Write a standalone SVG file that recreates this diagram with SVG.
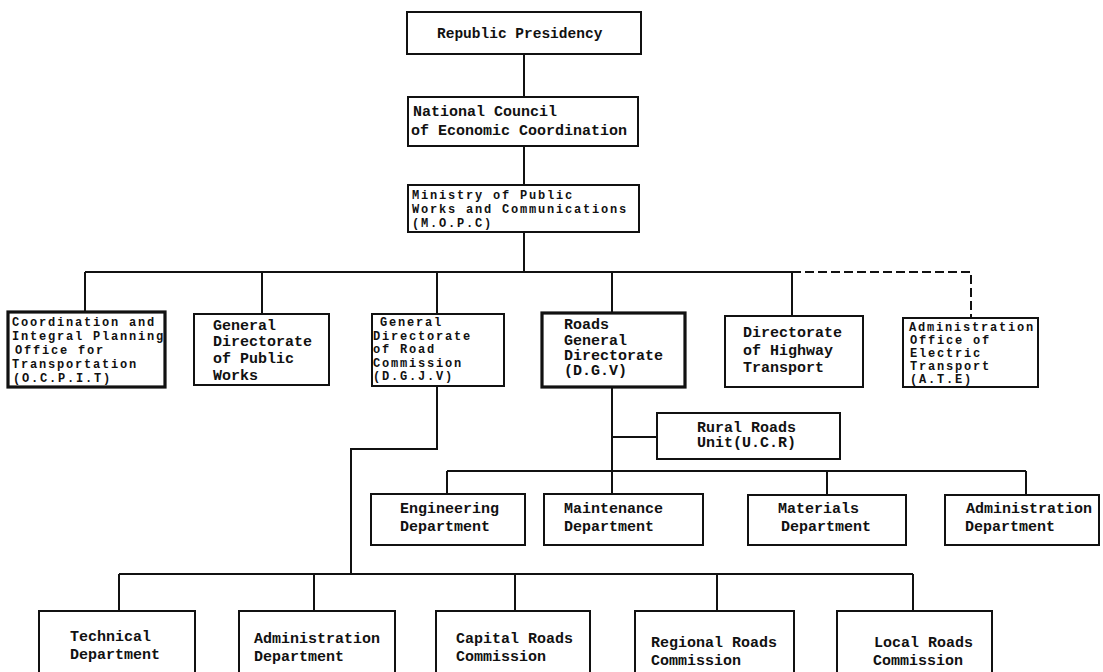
<svg xmlns="http://www.w3.org/2000/svg" width="1103" height="672" viewBox="0 0 1103 672">
<style>
.box{fill:#fff;stroke:#111;stroke-width:2}
.thick{stroke-width:3.2}
.ln{fill:none;stroke:#111;stroke-width:2}
.dash{fill:none;stroke:#111;stroke-width:2;stroke-dasharray:9,4}
text{font-family:"Liberation Mono","DejaVu Sans Mono",monospace;font-size:15px;font-weight:bold;fill:#111}
.sm{font-size:12px;letter-spacing:1.8px}
</style>
<rect width="1103" height="672" fill="#fff"/>
<g id="connectors">
<path class="ln" d="M524,54V97M524,146V185M524,232V272"/>
<path class="ln" d="M85,272H792M85,272V312M262,272V314M437,272V314M612,272V313M792,272V316"/>
<path class="dash" d="M792,272H971V318"/>
<path class="ln" d="M437,386V449H351V574"/>
<path class="ln" d="M612,387V494M612,437H657"/>
<path class="ln" d="M447,471H1026M447,471V494M827,471V495M1026,471V495"/>
<path class="ln" d="M119,574H913M119,574V611M314,574V611M515,574V611M717,574V611M913,574V611"/>
</g>
<g id="republic-presidency"><rect class="box" x="407" y="12" width="234" height="42"/><text x="437" y="38" style="font-size:14.5px">Republic Presidency</text></g>
<g id="national-council"><rect class="box" x="408" y="97" width="230" height="49"/><text x="413" y="116">National Council</text><text x="411" y="135">of Economic Coordination</text></g>
<g id="ministry"><rect class="box" x="408" y="185" width="231" height="47"/><text class="sm" x="412" y="199">Ministry of Public</text><text class="sm" x="412" y="213">Works and Communications</text><text class="sm" x="412" y="227">(M.O.P.C)</text></g>
<g id="ocpit"><rect class="box thick" x="8" y="312" width="157" height="75"/><text class="sm" x="12" y="326">Coordination and</text><text class="sm" x="12" y="340">Integral Planning</text><text class="sm" x="15" y="354">Office for</text><text class="sm" x="12" y="368">Transportation</text><text class="sm" x="13" y="382">(O.C.P.I.T)</text></g>
<g id="public-works"><rect class="box" x="194" y="314" width="135" height="71"/><text x="213" y="330">General</text><text x="213" y="346">Directorate</text><text x="213" y="363">of Public</text><text x="213" y="380">Works</text></g>
<g id="dgjv"><rect class="box" x="372" y="314" width="132" height="72"/><text class="sm" x="380" y="326">General</text><text class="sm" x="373" y="340">Directorate</text><text class="sm" x="373" y="353">of Road</text><text class="sm" x="373" y="367">Commission</text><text class="sm" x="373" y="380">(D.G.J.V)</text></g>
<g id="dgv"><rect class="box thick" x="542" y="313" width="143" height="74"/><text x="564" y="329">Roads</text><text x="564" y="345">General</text><text x="564" y="360">Directorate</text><text x="564" y="375">(D.G.V)</text></g>
<g id="highway"><rect class="box" x="725" y="316" width="138" height="71"/><text x="743" y="337">Directorate</text><text x="743" y="355">of Highway</text><text x="743" y="372">Transport</text></g>
<g id="ate"><rect class="box" x="903" y="318" width="135" height="69"/><text class="sm" x="909" y="331">Administration</text><text class="sm" x="910" y="344">Office of</text><text class="sm" x="910" y="357">Electric</text><text class="sm" x="910" y="370">Transport</text><text class="sm" x="910" y="383">(A.T.E)</text></g>
<g id="ucr"><rect class="box" x="657" y="413" width="183" height="46"/><text x="697" y="432">Rural Roads</text><text x="697" y="447">Unit(U.C.R)</text></g>
<g id="engineering"><rect class="box" x="371" y="494" width="154" height="51"/><text x="400" y="513">Engineering</text><text x="400" y="531">Department</text></g>
<g id="maintenance"><rect class="box" x="544" y="494" width="159" height="51"/><text x="564" y="513">Maintenance</text><text x="564" y="531">Department</text></g>
<g id="materials"><rect class="box" x="748" y="495" width="158" height="50"/><text x="778" y="513">Materials</text><text x="781" y="531">Department</text></g>
<g id="administration-dept"><rect class="box" x="945" y="495" width="154" height="50"/><text x="966" y="513">Administration</text><text x="965" y="531">Department</text></g>
<g id="technical"><rect class="box" x="39" y="611" width="156" height="75"/><text x="70" y="641">Technical</text><text x="70" y="659">Department</text></g>
<g id="administration-dept-2"><rect class="box" x="239" y="611" width="156" height="75"/><text x="254" y="643">Administration</text><text x="254" y="661">Department</text></g>
<g id="capital"><rect class="box" x="436" y="611" width="154" height="75"/><text x="456" y="643">Capital Roads</text><text x="456" y="661">Commission</text></g>
<g id="regional"><rect class="box" x="635" y="611" width="159" height="75"/><text x="651" y="647">Regional Roads</text><text x="651" y="665">Commission</text></g>
<g id="local"><rect class="box" x="837" y="611" width="155" height="75"/><text x="874" y="647">Local Roads</text><text x="873" y="665">Commission</text></g>
</svg>
